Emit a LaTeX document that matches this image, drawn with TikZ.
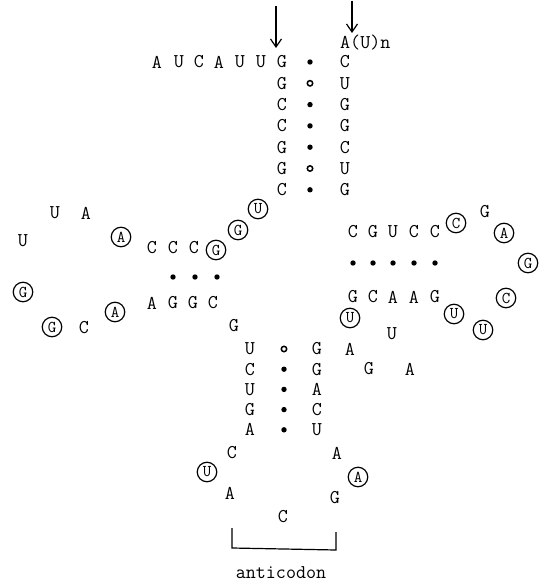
\documentclass[tikz,border=0pt]{standalone}
\usepackage{fontspec}
\usetikzlibrary{arrows.meta}
\tikzset{
  nt/.style={inner sep=0pt, font=\ttfamily\fontsize{19.5}{19.5}\selectfont},
  cnt/.style={circle, draw, line width=1.2pt, inner sep=0pt, minimum size=19.5pt, font=\ttfamily\fontsize{16.5}{16.5}\selectfont},
  pdot/.style={circle, fill, inner sep=0pt, minimum size=5.4pt},
  odot/.style={circle, draw, line width=1.5pt, inner sep=0pt, minimum size=5.4pt},
  arr/.style={line width=1.2pt, -{Straight Barb[length=8pt,width=11pt,line width=1.2pt]}},
  brk/.style={line width=1.2pt}
}
\begin{document}
\begin{tikzpicture}[x=1pt,y=-1pt]
\useasboundingbox (0,0) rectangle (545,585);
% arrows
\coordinate (a1s) at (276,6);
\coordinate (a1e) at (276,48);
\coordinate (a2s) at (352,1);
\coordinate (a2e) at (352,33);
\draw[arr] (a1s) -- (a1e);
\draw[arr] (a2s) -- (a2e);
\node[nt, anchor=west] (aun) at (340,43) {A(U)n};
% 5' strand
\foreach \l/\x [count=\i] in {A/157,U/179,C/199,A/219,U/240,U/261}
  \node[nt] (f\i) at (\x,62) {\l};
% acceptor stem
\foreach \l/\r/\d [count=\i] in {G/C/pdot,G/U/odot,C/G/pdot,C/G/pdot,G/C/pdot,G/U/odot,C/G/pdot}{
  \node[nt] (al\i) at (282,{62+21.3*(\i-1)}) {\l};
  \node[\d] (ad\i) at (310,{62+21.3*(\i-1)}) {};
  \node[nt] (ar\i) at (345,{62+21.3*(\i-1)}) {\r};
}
% connector to D arm
\node[cnt] (cu1) at (258,209) {U};
\node[cnt] (cg1) at (238,230) {G};
% D stem
\foreach \l/\x [count=\i] in {C/152,C/173,C/194}
  \node[nt] (dt\i) at (\x,248) {\l};
\node[cnt] (cg2) at (216,250) {G};
\foreach \x [count=\i] in {173,195,217}
  \node[pdot] (dd\i) at (\x,277) {};
\foreach \l/\x [count=\i] in {A/152,G/173,G/193,C/213}
  \node[nt] (db\i) at (\x,303) {\l};
% D loop
\node[cnt] (ca1) at (121,237) {A};
\node[nt] (la1) at (86,213) {A};
\node[nt] (lu1) at (55,213) {U};
\node[nt] (lu2) at (23,241) {U};
\node[cnt] (cg3) at (23,292) {G};
\node[cnt] (cg4) at (52,327) {G};
\node[nt] (lc1) at (84,328) {C};
\node[cnt] (ca2) at (115,312) {A};
% variable
\node[nt] (vg1) at (234,326) {G};
% anticodon stem
\foreach \l/\r/\d [count=\i] in {U/G/odot,C/G/pdot,U/A/pdot,G/C/pdot,A/U/pdot}{
  \node[nt] (bl\i) at (250,{349+20.2*(\i-1)}) {\l};
  \node[\d] (bd\i) at (284,{349+20.2*(\i-1)}) {};
  \node[nt] (br\i) at (317,{349+20.2*(\i-1)}) {\r};
}
% anticodon loop
\node[nt] (ac1) at (232,453) {C};
\node[cnt] (cu2) at (207,472) {U};
\node[nt] (aa1) at (230,493) {A};
\node[nt] (ac2) at (283,517) {C};
\node[nt] (ag1) at (335,498) {G};
\node[cnt] (ca3) at (358,477) {A};
\node[nt] (aa2) at (337,453) {A};
% variable loop to T arm
\node[nt] (xa1) at (350,349) {A};
\node[nt] (xg1) at (369,369) {G};
\node[nt] (xa2) at (410,369) {A};
\node[nt] (xu1) at (392,334) {U};
\node[cnt] (cu3) at (350,318) {U};
% T stem
\foreach \l/\m/\x [count=\i] in {C/G/353,G/C/373,U/A/393,C/A/414,C/G/435}{
  \node[nt] (tt\i) at (\x,232) {\l};
  \node[pdot] (td\i) at (\x,263) {};
  \node[nt] (tb\i) at (\x,297) {\m};
}
% T loop
\node[cnt] (cc1) at (456,223) {C};
\node[nt] (tg1) at (485,212) {G};
\node[cnt] (ca4) at (504,233) {A};
\node[cnt] (cg5) at (528,263) {G};
\node[cnt] (cc2) at (506,298) {C};
\node[cnt] (cu4) at (483,330) {U};
\node[cnt] (cu5) at (454,314) {U};
% anticodon bracket
\coordinate (b1) at (232,528);
\coordinate (b2) at (232,548);
\coordinate (b3) at (336,550);
\coordinate (b4) at (336,532);
\draw[brk] (b1) -- (b2) -- (b3) -- (b4);
\node[nt] (antic) at (281,573) {anticodon};
\end{tikzpicture}
\end{document}
